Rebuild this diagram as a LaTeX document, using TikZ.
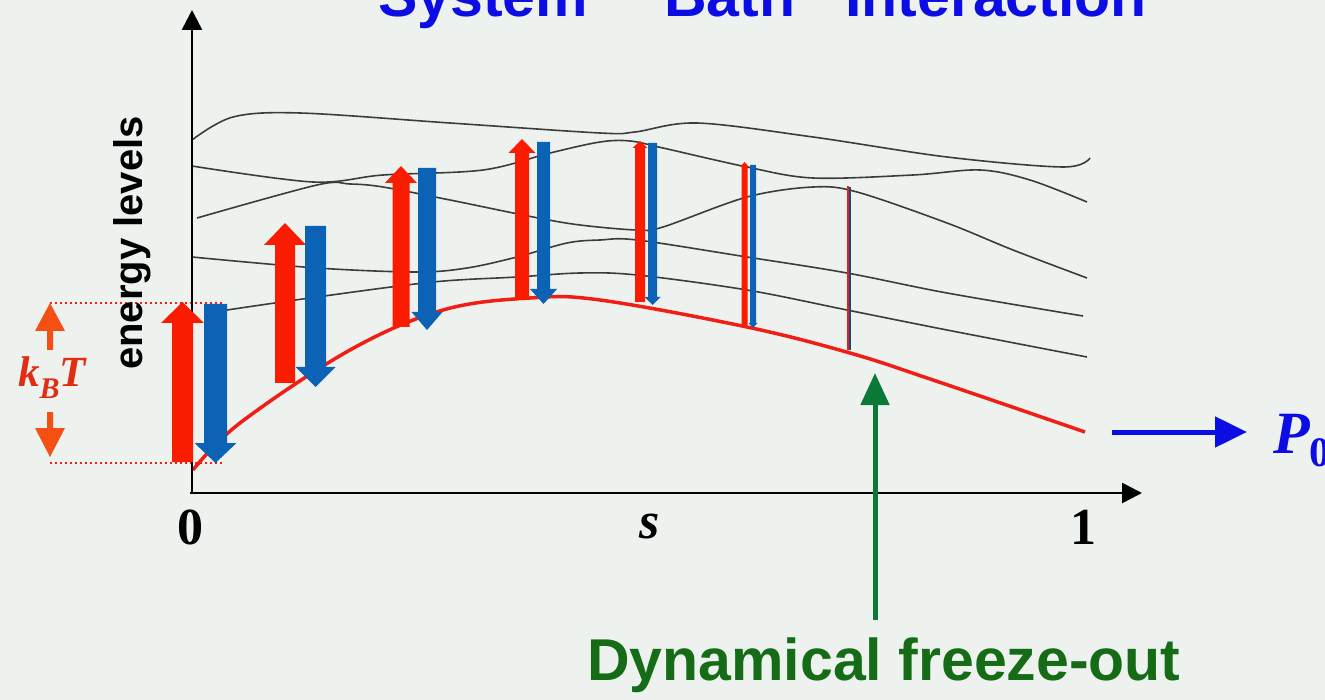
\documentclass[tikz,border=0pt]{standalone}
\usepackage{fontspec}
\setmainfont{Liberation Serif}
\setsansfont{Liberation Sans}
\usetikzlibrary{arrows.meta}
\definecolor{bgcol}{RGB}{238,242,239}
\definecolor{titleblue}{RGB}{12,12,228}
\definecolor{arrred}{RGB}{250,28,0}
\definecolor{arrblue}{RGB}{12,98,180}
\definecolor{curvered}{RGB}{240,30,20}
\definecolor{curvegray}{RGB}{60,60,60}
\definecolor{kbtred}{RGB}{225,45,20}
\definecolor{kbtorange}{RGB}{245,80,20}
\definecolor{frzgreen}{RGB}{22,108,22}
\definecolor{frzarrow}{RGB}{10,120,55}
\newcommand{\rsupbar}[7]{\fill[#7] ({#1-#4},#2) -- ({#1-#4},{#3+#6}) -- ({#1-#5},{#3+#6}) -- (#1,#3) -- ({#1+#5},{#3+#6}) -- ({#1+#4},{#3+#6}) -- ({#1+#4},#2) -- cycle;}
\newcommand{\rsdownbar}[7]{\fill[#7] ({#1-#4},#2) -- ({#1-#4},{#3-#6}) -- ({#1-#5},{#3-#6}) -- (#1,#3) -- ({#1+#5},{#3-#6}) -- ({#1+#4},{#3-#6}) -- ({#1+#4},#2) -- cycle;}
\tikzset{
  level/.style={draw=curvegray, line width=1.6pt},
  ground/.style={draw=curvered, line width=3.5pt},
  axis/.style={draw=black, line width=2.5pt, -{Triangle[length=20pt,width=20pt]}},
  kbline/.style={draw=curvered, line width=2pt, dash pattern=on 2pt off 3pt},
  titletext/.style={inner sep=0pt, anchor=base west, text=titleblue, font=\sffamily\bfseries\fontsize{59}{59}\selectfont},
  ticktext/.style={inner sep=0pt, font=\bfseries\fontsize{52}{52}\selectfont}
}
\begin{document}
\begin{tikzpicture}[x=1pt,y=-1pt]
\fill[bgcol] (0,0) rectangle (1325,700);
\clip (0,0) rectangle (1325,700);
\useasboundingbox (0,0) rectangle (1325,700);

% title (cropped at top)
\node[titletext] (tsys) at (378,17) {System};
\node[titletext] (tbath) at (664,17) {Bath};
\node[titletext] (tint) at (845,17) {Interaction};

% kBT dotted levels
\draw[kbline] (50,303) -- (223,303);
\draw[kbline] (50,463) -- (223,463);

% energy levels
\draw[level] plot[smooth, tension=0.55] coordinates {(192,140) (233,117) (300,113) (450,123) (600,133) (635,132) (697,123) (813,137) (947,157) (1063,167) (1090,158)};
\draw[level] plot[smooth, tension=0.55] coordinates {(192,166) (313,182) (383,175) (483,170) (550,153) (600,142) (630,141) (663,148) (747,167) (813,178) (913,175) (980,170) (1030,180) (1087,202)};
\draw[level] plot[smooth, tension=0.55] coordinates {(197,218) (317,185) (350,184) (383,187) (450,200) (533,217) (580,225) (637,230) (663,227) (747,197) (813,187) (857,192) (947,223) (1013,250) (1087,278)};
\draw[level] plot[smooth, tension=0.55] coordinates {(192,257) (317,268) (417,272) (467,268) (517,257) (567,243) (600,240) (637,240) (747,257) (847,273) (947,293) (1083,316)};
\draw[level] plot[smooth, tension=0.55] coordinates {(227,310) (317,297) (433,282) (517,277) (580,273) (637,275) (747,290) (847,310) (947,330) (1087,357)};
\draw[ground] plot[smooth, tension=0.6] coordinates {(193,470) (240,423) (350,350) (443,310) (530,298) (600,300) (747,327) (850,353) (933,380) (1085,432)};

% axes
\coordinate (origin) at (192,493);
\coordinate (ytop) at (192,10);
\coordinate (xend) at (1142,493);
\draw[axis] (192,494) -- (ytop);
\draw[axis] (190,493) -- (xend);

% axis labels
\node[ticktext] (zero) at (190,527) {0};
\node[ticktext] (one) at (1083,527) {1};
\node[ticktext, font=\bfseries\itshape\fontsize{52}{52}\selectfont] (svar) at (650,527) {s};
\node[inner sep=0pt, rotate=90, font=\sffamily\bfseries\fontsize{40}{40}\selectfont] (elev) at (132,243) {energy levels};

% kBT label with arrows
\node[inner sep=0pt, text=kbtred, font=\bfseries\itshape\fontsize{43}{43}\selectfont] (kbt) at (52,378) {k\raisebox{-0.28em}{\fontsize{30}{30}\selectfont B}T};
\rsupbar{50}{350}{303}{3}{15}{28}{kbtorange}
\rsdownbar{50}{412}{457}{3}{15}{29}{kbtorange}

% transition arrows
\rsupbar{182.5}{462}{302}{10.5}{21.5}{21}{arrred}
\rsdownbar{215.5}{304}{463}{11.5}{21}{20}{arrblue}
\rsupbar{285}{383}{223}{10}{21}{22}{arrred}
\rsdownbar{315.5}{226}{387}{10.5}{20}{20}{arrblue}
\rsupbar{401}{327}{166}{8.5}{16}{17}{arrred}
\rsdownbar{427}{168}{330}{9}{15.5}{18}{arrblue}
\rsupbar{522}{300}{139}{7}{13.5}{14}{arrred}
\rsdownbar{543.5}{142}{304}{6.5}{13.5}{15}{arrblue}
\rsupbar{640}{302}{141}{5}{7.5}{7}{arrred}
\rsdownbar{652.5}{143}{305}{4.5}{8}{8}{arrblue}
\rsupbar{744.5}{325}{162}{3}{4.5}{5}{arrred}
\rsdownbar{753}{165}{328}{3}{4.5}{5}{arrblue}
\fill[arrred] (846.8,186) rectangle (849,350);
\fill[arrblue!80!black] (849,187) rectangle (851,350);

% P0
\node[inner sep=0pt, anchor=base west, text=titleblue, font=\bfseries\itshape\fontsize{60}{60}\selectfont] (pzero) at (1273,453) {P\raisebox{-0.22em}{\fontsize{42}{42}\selectfont\upshape 0}};
\coordinate (pstart) at (1112,432);
\draw[draw=titleblue, line width=5pt, -{Triangle[length=32pt,width=30pt]}] (pstart) -- (1247,432);

% dynamical freeze-out
\node[inner sep=0pt, anchor=base west, text=frzgreen, font=\sffamily\bfseries\fontsize{59}{59}\selectfont] (freeze) at (587,680) {Dynamical freeze-out};
\coordinate (frzbase) at (875,620);
\coordinate (frztip) at (875,373);
\draw[draw=frzarrow, line width=5pt, -{Triangle[length=32pt,width=28pt]}] (frzbase) -- (frztip);
\end{tikzpicture}
\end{document}
